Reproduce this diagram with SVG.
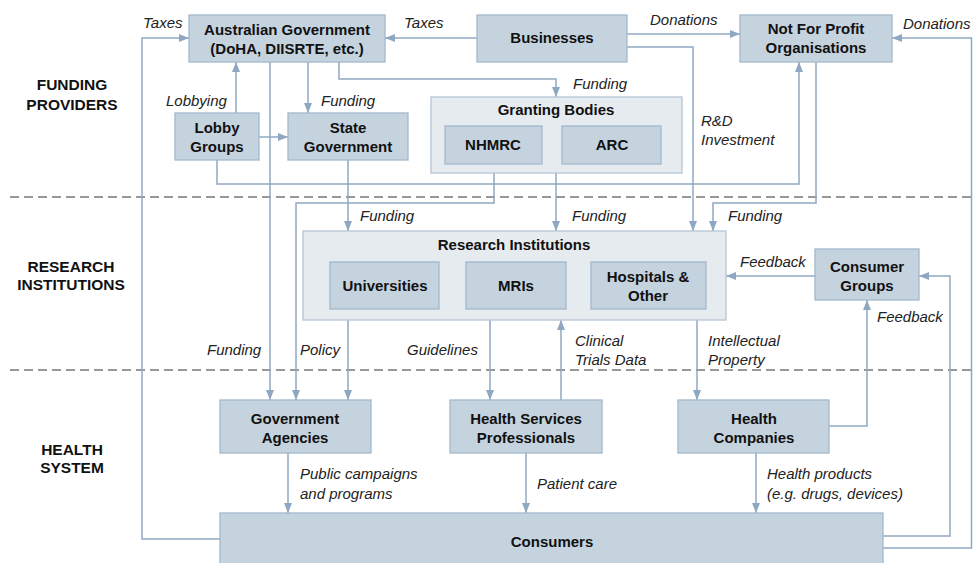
<svg xmlns="http://www.w3.org/2000/svg" width="973" height="563" viewBox="0 0 973 563">
<defs>
<marker id="ah" markerUnits="userSpaceOnUse" markerWidth="10" markerHeight="10" viewBox="0 0 10 10" refX="10" refY="5" orient="auto">
<path d="M0,1 L10,5 L0,9 Z" fill="#8fa8c2"/>
</marker>
<style>
.box{fill:#c5d3df;stroke:#a3b8cc;stroke-width:1.3}
.outer{fill:#e6ebf0;stroke:#b5c5d4;stroke-width:1.3}
.bt{font-family:"Liberation Sans",Arial,sans-serif;font-weight:bold;font-size:15px;fill:#111;text-anchor:middle}
.it{font-family:"Liberation Sans",Arial,sans-serif;font-style:italic;font-size:15px;fill:#222}
.sec{font-family:"Liberation Sans",Arial,sans-serif;font-weight:bold;font-size:15.5px;fill:#111;text-anchor:middle}
.c{fill:none;stroke:#8fa8c2;stroke-width:1.5;marker-end:url(#ah)}
.cn{fill:none;stroke:#8fa8c2;stroke-width:1.5}
.dash{stroke:#777;stroke-width:1.5;stroke-dasharray:9 5}
</style>
</defs>
<rect width="973" height="563" fill="#fff"/>
<line class="dash" x1="10" y1="197" x2="973" y2="197"/>
<line class="dash" x1="10" y1="370" x2="973" y2="370"/>
<g id="sections">
<text class="sec" x="72" y="90">FUNDING</text>
<text class="sec" x="72" y="110">PROVIDERS</text>
<text class="sec" x="71" y="272">RESEARCH</text>
<text class="sec" x="71" y="290">INSTITUTIONS</text>
<text class="sec" x="72" y="455">HEALTH</text>
<text class="sec" x="72" y="473">SYSTEM</text>
</g>
<g id="connectors">
<path class="c" d="M220,539 H142 V38 H189"/>
<path class="c" d="M477,38 H385"/>
<path class="c" d="M627,34 H740"/>
<path class="c" d="M883,548 H971.5 V38 H892"/>
<path class="c" d="M236,113 V62"/>
<path class="c" d="M259,137 H288"/>
<path class="c" d="M308,62 V113"/>
<path class="c" d="M339,62 V79 H556 V97"/>
<path class="c" d="M270,62 V400"/>
<path class="c" d="M217,160 V184 H799 V62"/>
<path class="c" d="M348,160 V231"/>
<path class="c" d="M494,164 V203 H296 V400"/>
<path class="c" d="M556,173 V231"/>
<path class="c" d="M627,47 H693 V231"/>
<path class="c" d="M816,62 V203 H713 V231"/>
<path class="c" d="M815,276 H726"/>
<path class="c" d="M348,320 V400"/>
<path class="c" d="M490,320 V400"/>
<path class="c" d="M561,400 V320"/>
<path class="c" d="M697,320 V400"/>
<path class="c" d="M829,426 H867 V300"/>
<path class="c" d="M883,536 H950 V276 H919"/>
<path class="c" d="M288,453 V513"/>
<path class="c" d="M526,453 V513"/>
<path class="c" d="M756,453 V513"/>
</g>
<g id="labels">
<text class="it" x="143" y="28">Taxes</text>
<text class="it" x="404" y="28">Taxes</text>
<text class="it" x="650" y="25">Donations</text>
<text class="it" x="903" y="29">Donations</text>
<text class="it" x="166" y="106">Lobbying</text>
<text class="it" x="321" y="106">Funding</text>
<text class="it" x="573" y="89">Funding</text>
<text class="it" x="701" y="126">R&amp;D</text>
<text class="it" x="701" y="145">Investment</text>
<text class="it" x="360" y="221">Funding</text>
<text class="it" x="572" y="221">Funding</text>
<text class="it" x="728" y="221">Funding</text>
<text class="it" x="740" y="267">Feedback</text>
<text class="it" x="877" y="322">Feedback</text>
<text class="it" x="207" y="355">Funding</text>
<text class="it" x="300" y="355">Policy</text>
<text class="it" x="407" y="355">Guidelines</text>
<text class="it" x="575" y="346">Clinical</text>
<text class="it" x="575" y="365">Trials Data</text>
<text class="it" x="708" y="346">Intellectual</text>
<text class="it" x="708" y="365">Property</text>
<text class="it" x="300" y="479">Public campaigns</text>
<text class="it" x="300" y="499">and programs</text>
<text class="it" x="537" y="489">Patient care</text>
<text class="it" x="767" y="479">Health products</text>
<text class="it" x="767" y="499">(e.g. drugs, devices)</text>
</g>
<g id="aus-gov">
<rect class="box" x="189" y="15" width="196" height="47"/>
<text class="bt" x="287" y="35">Australian Government</text>
<text class="bt" x="287" y="54">(DoHA, DIISRTE, etc.)</text>
</g>
<g id="businesses">
<rect class="box" x="477" y="15" width="150" height="47"/>
<text class="bt" x="552" y="43">Businesses</text>
</g>
<g id="nfp">
<rect class="box" x="740" y="15" width="152" height="47"/>
<text class="bt" x="816" y="34">Not For Profit</text>
<text class="bt" x="816" y="53">Organisations</text>
</g>
<g id="lobby">
<rect class="box" x="175" y="113" width="84" height="47"/>
<text class="bt" x="217" y="133">Lobby</text>
<text class="bt" x="217" y="152">Groups</text>
</g>
<g id="state-gov">
<rect class="box" x="288" y="113" width="120" height="47"/>
<text class="bt" x="348" y="133">State</text>
<text class="bt" x="348" y="152">Government</text>
</g>
<g id="granting">
<rect class="outer" x="431" y="97" width="251" height="76"/>
<text class="bt" x="556" y="115">Granting Bodies</text>
<g id="nhmrc">
<rect class="box" x="445" y="126" width="97" height="38"/>
<text class="bt" x="493" y="150">NHMRC</text>
</g>
<g id="arc">
<rect class="box" x="562" y="126" width="99" height="38"/>
<text class="bt" x="612" y="150">ARC</text>
</g>
</g>
<g id="research">
<rect class="outer" x="303" y="231" width="423" height="89"/>
<text class="bt" x="514" y="250">Research Institutions</text>
<g id="universities">
<rect class="box" x="330" y="262" width="109" height="47"/>
<text class="bt" x="385" y="291">Universities</text>
</g>
<g id="mris">
<rect class="box" x="466" y="262" width="100" height="47"/>
<text class="bt" x="516" y="291">MRIs</text>
</g>
<g id="hospitals">
<rect class="box" x="591" y="262" width="115" height="47"/>
<text class="bt" x="648" y="282">Hospitals &amp;</text>
<text class="bt" x="648" y="301">Other</text>
</g>
</g>
<g id="consumer-groups">
<rect class="box" x="815" y="249" width="104" height="51"/>
<text class="bt" x="867" y="272">Consumer</text>
<text class="bt" x="867" y="291">Groups</text>
</g>
<g id="gov-agencies">
<rect class="box" x="220" y="400" width="151" height="53"/>
<text class="bt" x="295" y="424">Government</text>
<text class="bt" x="295" y="443">Agencies</text>
</g>
<g id="hsp">
<rect class="box" x="450" y="400" width="152" height="53"/>
<text class="bt" x="526" y="424">Health Services</text>
<text class="bt" x="526" y="443">Professionals</text>
</g>
<g id="health-companies">
<rect class="box" x="678" y="400" width="151" height="53"/>
<text class="bt" x="754" y="424">Health</text>
<text class="bt" x="754" y="443">Companies</text>
</g>
<g id="consumers">
<rect class="box" x="220" y="513" width="663" height="60"/>
<text class="bt" x="552" y="547">Consumers</text>
</g>
</svg>
